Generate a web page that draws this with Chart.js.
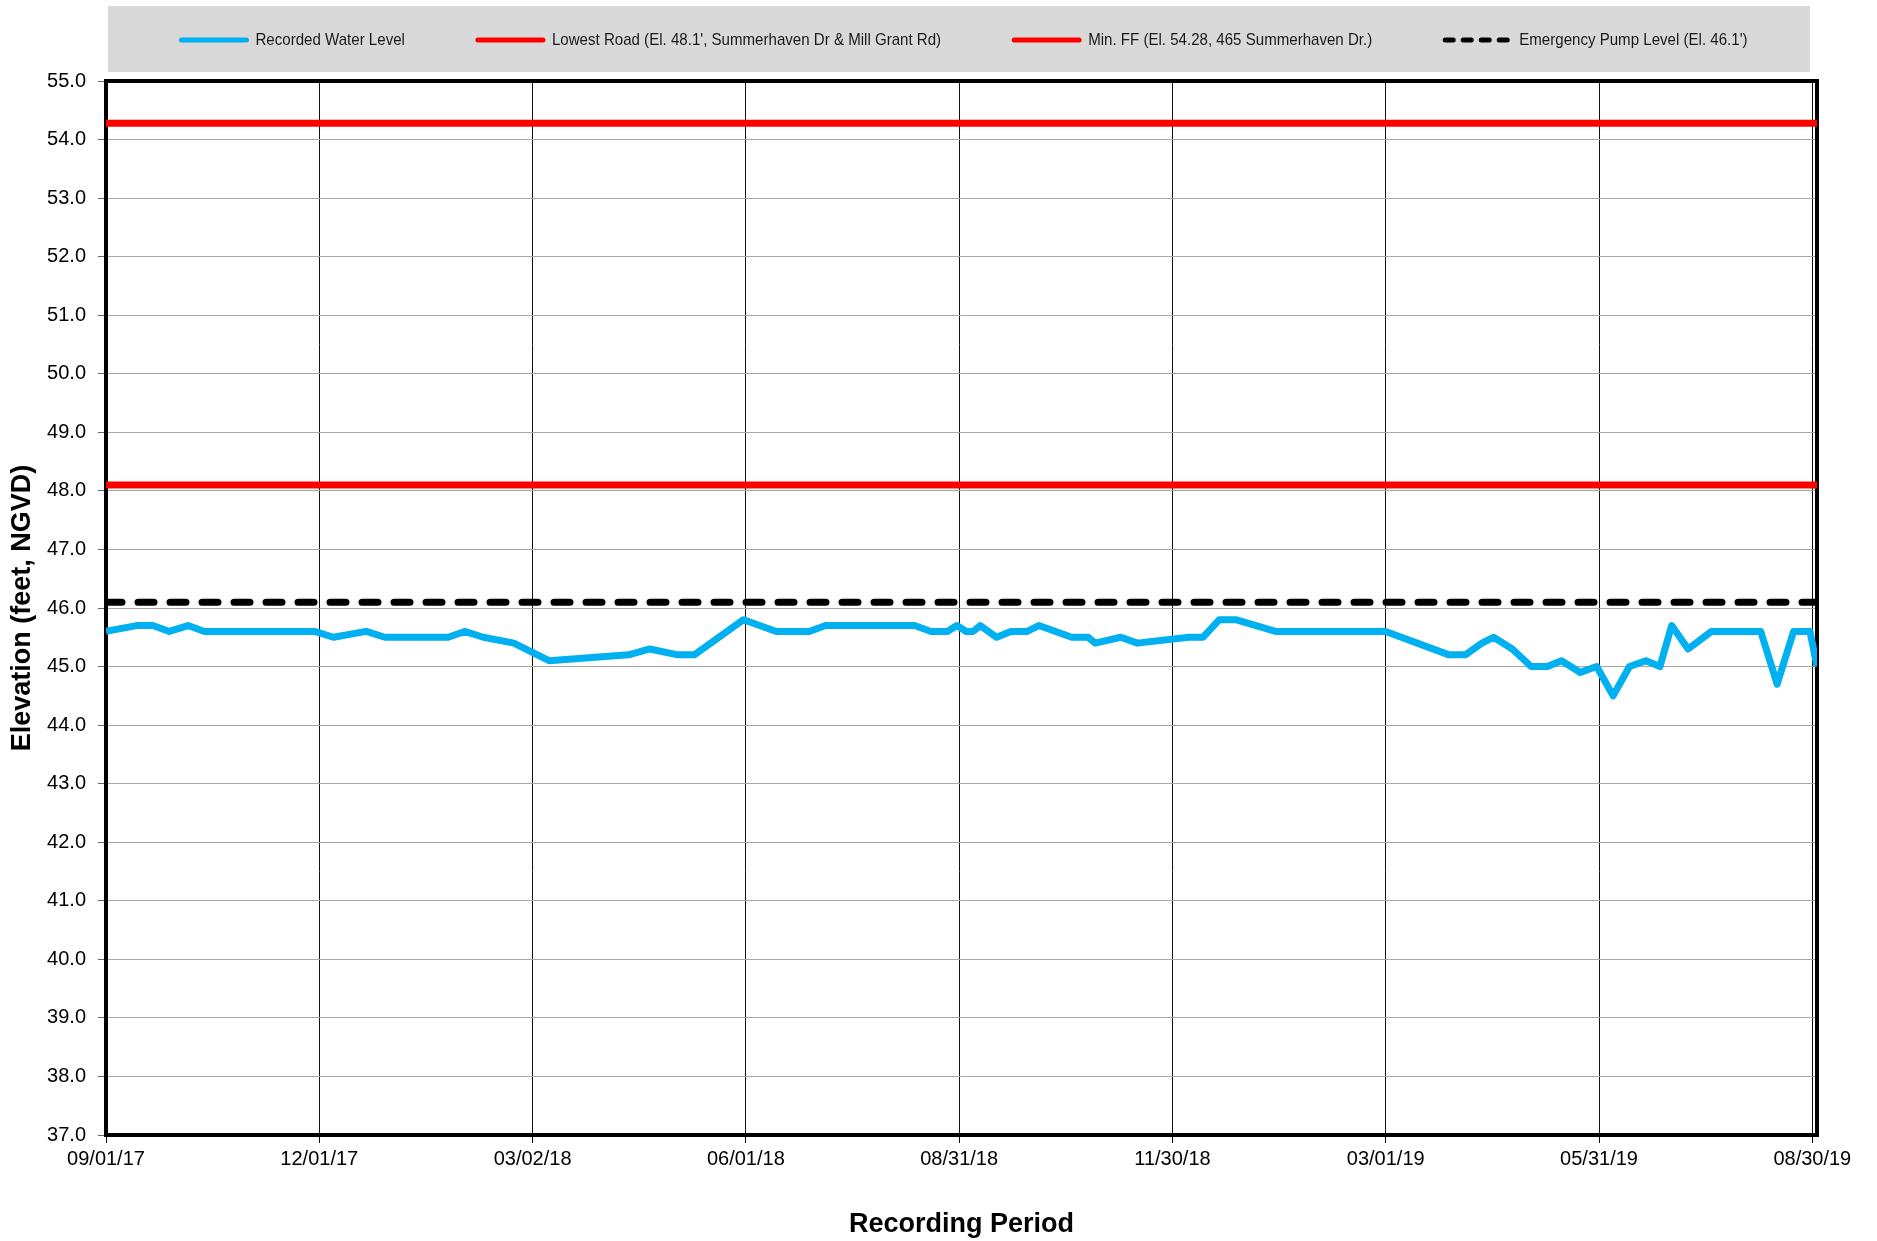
<!DOCTYPE html>
<html>
<head>
<meta charset="utf-8">
<script src="https://cdn.jsdelivr.net/npm/chart.js@4.4.1/dist/chart.umd.min.js"></script>
<style>
  html, body { margin: 0; padding: 0; background: #ffffff; }
  #wrap { width: 1877px; height: 1241px; position: relative; }
  canvas { display: block; }
</style>
</head>
<body>
<div id="wrap"><canvas id="c" width="1877" height="1241"></canvas></div>
<script>
// ---- Data (days since 09/01/17) ----
const tickDays   = [0, 91, 182, 273, 364, 455, 546, 637, 728];
const tickLabels = ['09/01/17','12/01/17','03/02/18','06/01/18','08/31/18','11/30/18','03/01/19','05/31/19','08/30/19'];

const levelDays = [0, 13, 20, 27, 35, 42, 89, 97, 111, 119, 146, 153, 161, 174, 189,
  223, 232, 244, 251, 272, 286, 300, 307, 345, 352, 359, 363, 367, 370, 373,
  380, 386, 393, 398, 412, 419, 422, 433, 440, 462, 468, 475, 482, 499, 546,
  573, 580, 587, 592, 600, 608, 615, 621, 629, 636, 643, 650, 657, 663, 668,
  675, 685, 706, 713, 720, 727, 730];
const levelValues = [45.6, 45.7, 45.7, 45.6, 45.7, 45.6, 45.6, 45.5, 45.6, 45.5, 45.5, 45.6, 45.5, 45.4, 45.1,
  45.2, 45.3, 45.2, 45.2, 45.8, 45.6, 45.6, 45.7, 45.7, 45.6, 45.6, 45.7, 45.6, 45.6, 45.7,
  45.5, 45.6, 45.6, 45.7, 45.5, 45.5, 45.4, 45.5, 45.4, 45.5, 45.5, 45.8, 45.8, 45.6, 45.6,
  45.2, 45.2, 45.4, 45.5, 45.3, 45.0, 45.0, 45.1, 44.9, 45.0, 44.5, 45.0, 45.1, 45.0, 45.7,
  45.3, 45.6, 45.6, 44.7, 45.6, 45.6, 45.0];

const refSpan = [0, 730];
const lowestRoadEl = 48.1;
const minFFEl = 54.28;
const pumpEl = 46.1;

const seriesLabels = [
  'Recorded Water Level',
  "Lowest Road (El. 48.1', Summerhaven Dr & Mill Grant Rd)",
  'Min. FF (El. 54.28, 465 Summerhaven Dr.)',
  "Emergency Pump Level (El. 46.1')"
];

const yTitle = 'Elevation (feet, NGVD)';
const xTitle = 'Recording Period';

// ---- Build chart data ----
const levelPoints = levelDays.map((d, i) => ({ x: d, y: levelValues[i] }));
const flat = v => refSpan.map(d => ({ x: d, y: v }));

const framePlugin = {
  id: 'frame',
  beforeDatasetsDraw(chart) {
    const { ctx, chartArea: a } = chart;
    ctx.save();
    ctx.strokeStyle = '#000';
    ctx.lineWidth = 4;
    ctx.strokeRect(a.left, a.top, a.right - a.left, a.bottom - a.top);
    ctx.restore();
  }
};

const boxLegend = {
  id: 'boxLegend',
  afterDraw(chart) {
    const { ctx, chartArea: a } = chart;
    const x0 = a.left + 2, x1 = a.right - 7, y0 = 6, y1 = 72;
    const squeeze = 0.887;
    ctx.save();
    ctx.fillStyle = '#d9d9d9';
    ctx.fillRect(x0, y0, x1 - x0, y1 - y0);
    ctx.font = "17px 'Liberation Sans', Arial, sans-serif";
    const lineLen = 71, gap = 6, pad = 70;
    const items = chart.data.datasets.map(ds => {
      const tw = ctx.measureText(ds.label).width * squeeze;
      return { ds, tw, w: lineLen + gap + tw };
    });
    const total = items.reduce((s, it) => s + it.w, 0) + pad * (items.length - 1);
    let x = (x0 + x1) / 2 - total / 2 + 4;
    const cy = (y0 + y1) / 2 + 1;
    items.forEach(it => {
      ctx.beginPath();
      ctx.strokeStyle = it.ds.borderColor;
      ctx.lineWidth = 5;
      ctx.lineCap = 'round';
      ctx.setLineDash(it.ds.borderDash && it.ds.borderDash.length ? [8, 10] : []);
      ctx.moveTo(x + 3, cy);
      ctx.lineTo(x + lineLen - 3, cy);
      ctx.stroke();
      ctx.setLineDash([]);
      ctx.save();
      ctx.translate(x + lineLen + gap, cy);
      ctx.scale(squeeze, 1);
      ctx.fillStyle = '#1a1a1a';
      ctx.textBaseline = 'middle';
      ctx.textAlign = 'left';
      ctx.fillText(it.ds.label, 0, 0);
      ctx.restore();
      x += it.w + pad;
    });
    ctx.restore();
  }
};

new Chart(document.getElementById('c'), {
  type: 'line',
  data: {
    datasets: [
      { label: seriesLabels[0], data: levelPoints, borderColor: '#00B0F0', backgroundColor: '#00B0F0',
        borderWidth: 7, pointRadius: 0, tension: 0, borderJoinStyle: 'round', borderCapStyle: 'butt', order: 1 },
      { label: seriesLabels[1], data: flat(lowestRoadEl), borderColor: '#FF0000', backgroundColor: '#FF0000',
        borderWidth: 7, pointRadius: 0, order: 2 },
      { label: seriesLabels[2], data: flat(minFFEl), borderColor: '#FF0000', backgroundColor: '#FF0000',
        borderWidth: 7, pointRadius: 0, order: 3 },
      { label: seriesLabels[3], data: flat(pumpEl), borderColor: '#000000', backgroundColor: '#000000',
        borderWidth: 7, pointRadius: 0, borderDash: [16, 16], borderCapStyle: 'round', order: 4 }
    ]
  },
  options: {
    responsive: false,
    animation: false,
    devicePixelRatio: 1,
    layout: { padding: { top: 81, right: 60, left: 0, bottom: 0 } },
    plugins: { legend: { display: false }, tooltip: { enabled: false } },
    scales: {
      x: {
        type: 'linear', min: 0, max: 730,
        afterBuildTicks: axis => { axis.ticks = tickDays.map(v => ({ value: v })); },
        afterFit: s => { s.height = 106; },
        ticks: {
          autoSkip: false, maxRotation: 0, padding: 4, color: '#000',
          font: { family: "'Liberation Sans', Arial, sans-serif", size: 20 },
          callback: v => { const i = tickDays.indexOf(v); return i >= 0 ? tickLabels[i] : ''; }
        },
        grid: { color: '#111', lineWidth: 1, tickLength: 8, tickColor: '#111', drawTicks: true },
        border: { display: false },
        title: { display: true, text: xTitle, color: '#000', padding: { top: 4, bottom: 0 },
          font: { family: "'Liberation Sans', Arial, sans-serif", size: 27, weight: 'bold' } }
      },
      y: {
        min: 37, max: 55,
        afterFit: s => { s.width = 106; },
        ticks: {
          stepSize: 1, padding: 12, color: '#000',
          font: { family: "'Liberation Sans', Arial, sans-serif", size: 20 },
          callback: v => Number(v).toFixed(1)
        },
        grid: { color: '#a6a6a6', lineWidth: 1, tickLength: 8, tickColor: '#666', drawTicks: true },
        border: { display: false },
        title: { display: true, text: yTitle, color: '#000', padding: { top: 6, bottom: 0 },
          font: { family: "'Liberation Sans', Arial, sans-serif", size: 27, weight: 'bold' } }
      }
    }
  },
  plugins: [framePlugin, boxLegend]
});
</script>
</body>
</html>
